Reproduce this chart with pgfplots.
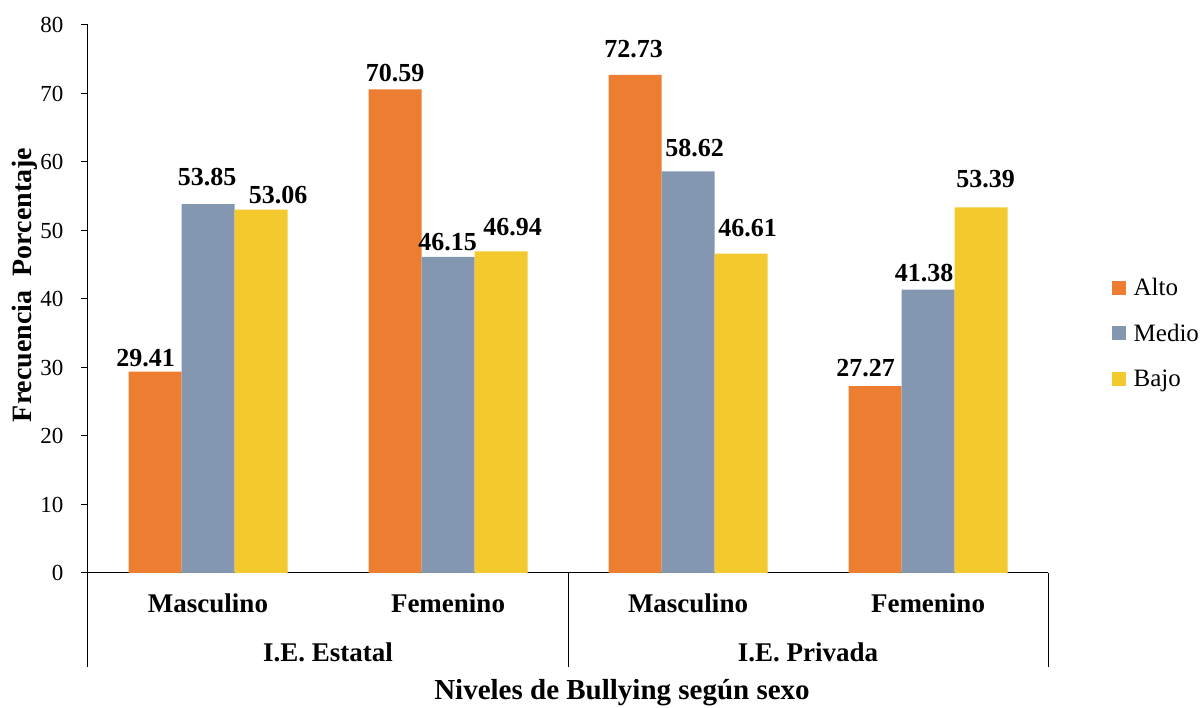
\documentclass[border=0pt]{standalone}
\usepackage{fontspec}
\setmainfont{Liberation Serif}
\usepackage{pgfplots}
\usepackage{pgfplotstable}
\pgfplotsset{compat=1.18}
\definecolor{alto}{HTML}{ED7D31}
\definecolor{medio}{HTML}{8497B0}
\definecolor{bajo}{HTML}{F4C92E}
\pgfplotstableread{
x y dx dy
0 29.41 -9.5 4
1 70.59 0 7
2 72.73 -1.5 17
3 27.27 -9.5 9
}\alto
\pgfplotstableread{
x y dx dy
0 53.85 -1 18
1 46.15 -0.5 6
2 58.62 6.5 14
3 41.38 -4 7
}\medio
\pgfplotstableread{
x y dx dy
0 53.06 17 5
1 46.94 11.5 15
2 46.61 6.5 17
3 53.39 4.5 19
}\bajo
\begin{document}
\begin{tikzpicture}[x=1pt,y=1pt]
\useasboundingbox (0,0) rectangle (1204,708);
\begin{axis}[
 at={(88pt,135pt)}, anchor=south west, scale only axis, width=960pt, height=548pt,
 ybar=0pt, bar width=53pt,
 xmin=-0.5, xmax=3.5, ymin=0, ymax=80, ytick={0,10,...,80},
 xtick={0,1,2,3}, xticklabels={Masculino,Femenino,Masculino,Femenino},
 x tick label style={font=\fontsize{27}{30}\selectfont\bfseries, yshift=-10pt},
 y tick label style={font=\fontsize{23}{26}\selectfont, xshift=-14pt},
 /pgf/number format/assume math mode=true,
 axis x line*=bottom, axis y line*=left,
 axis line style={-, black, line width=1pt},
 major x tick style={draw=none},
 tick align=outside, major tick length=7pt,
 ytick style={black, line width=1pt},
 visualization depends on={\thisrow{dx} \as \dx},
 visualization depends on={\thisrow{dy} \as \dy},
 nodes near coords,
 nodes near coords style={font=\fontsize{26}{29}\selectfont\bfseries, inner sep=0pt, anchor=south, xshift={\dx*1pt}, yshift={\dy*1pt}, /pgf/number format/.cd, fixed, precision=2, zerofill, assume math mode=true},
 clip=false,
 legend style={at={(axis description cs:1.063,0.438)}, anchor=west, draw=none, font=\fontsize{25}{28}\selectfont, row sep=23pt, legend cell align=left, /tikz/every odd column/.append style={column sep=6pt}},
 legend image code/.code={\fill[#1] (0pt,-7pt) rectangle (14pt,7pt);},
]
\addplot[fill=alto, draw=none] table[x=x,y=y] {\alto};
\addplot[fill=medio, draw=none] table[x=x,y=y] {\medio};
\addplot[fill=bajo, draw=none] table[x=x,y=y] {\bajo};
\legend{Alto,Medio,Bajo}
\draw[line width=1pt] (axis cs:-0.5,0) -- ([yshift=-94pt]axis cs:-0.5,0);
\draw[line width=1pt] (axis cs:1.5,0) -- ([yshift=-94pt]axis cs:1.5,0);
\draw[line width=1pt] (axis cs:3.5,0) -- ([yshift=-94pt]axis cs:3.5,0);
\node[font=\fontsize{27}{30}\selectfont\bfseries] at (axis cs:0.5,0) [yshift=-79pt] {I.E. Estatal};
\node[font=\fontsize{27}{30}\selectfont\bfseries] at (axis cs:2.5,0) [yshift=-79pt] {I.E. Privada};
\end{axis}
\node[rotate=90, font=\fontsize{28}{31}\selectfont\bfseries] at (25,423) {Frecuencia\ \ Porcentaje};
\node[font=\fontsize{29}{32}\selectfont\bfseries] at (622,15) {Niveles de Bullying según sexo};
\end{tikzpicture}
\end{document}
